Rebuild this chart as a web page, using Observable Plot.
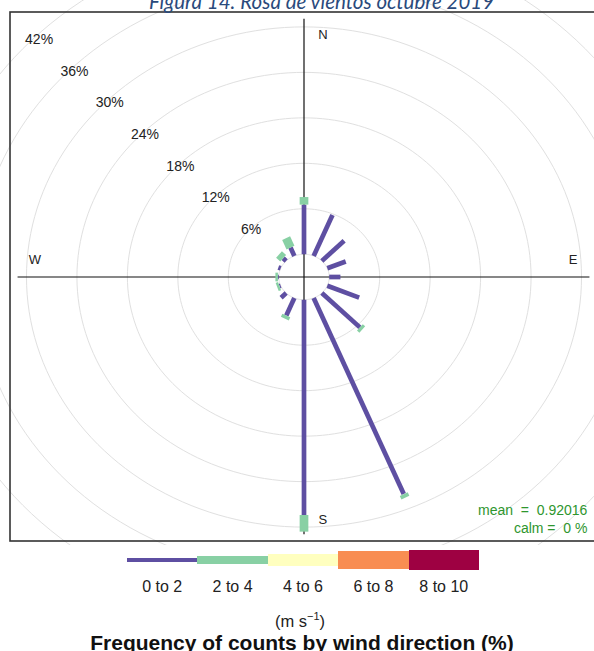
<!DOCTYPE html>
<html>
<head>
<meta charset="utf-8">
<script src="https://cdn.jsdelivr.net/npm/d3@7"></script>
<script src="https://cdn.jsdelivr.net/npm/@observablehq/plot@0.6"></script>
<style>
  html, body { margin: 0; padding: 0; background: #fff; }
  body { width: 594px; height: 651px; overflow: hidden; position: relative; font-family: "Liberation Sans", Arial, sans-serif; }
  #title { position: absolute; top: -9px; left: 0; width: 643px; text-align: center; font-family: Lato, "Open Sans", sans-serif; font-style: italic; font-size: 20.5px; line-height: 21px; color: #2a4a7c; z-index: 2; white-space: nowrap; }
  #chart { position: absolute; top: 0; left: 0; }
  #chart svg { overflow: hidden; }
  .seg { position: absolute; box-sizing: border-box; }
  .lab { position: absolute; width: 70px; text-align: center; font-size: 16px; line-height: 16px; color: #222; }
  #unit { position: absolute; left: 0; width: 600px; text-align: center; top: 607px; font-size: 16.5px; line-height: 18px; color: #222; }
  #footer { position: absolute; left: 0; width: 604px; text-align: center; top: 632px; font-size: 21px; line-height: 22px; font-weight: bold; color: #111; white-space: nowrap; }
</style>
</head>
<body>
<div id="title">Figura 14. Rosa de vientos octubre 2019</div>
<div id="chart"></div>
<div id="legend"></div>
<div id="unit">(m s<sup style="font-size:11px">−1</sup>)</div>
<div id="footer">Frequency of counts by wind direction (%)</div>
<script>
// ---- data ----
const directions = [0, 22.5, 45, 67.5, 90, 112.5, 135, 157.5, 180, 202.5, 225, 247.5, 270, 292.5, 315, 337.5];
const speedBins = ["0 to 2", "2 to 4", "4 to 6", "6 to 8", "8 to 10"];
const freq0to2 = [6.55, 5.85, 3.75, 2.37, 1.33, 4.1, 6.4, 28.0, 28.4, 2.5, 0.85, 0.15, 0.1, 0.3, 0.5, 1.2];
const freq2to4 = [1.0, 0, 0, 0, 0, 0, 0.4, 0.5, 2.2, 0.45, 0, 0.3, 0.3, 0, 0.7, 1.35];
const freq4to6 = [0, 0, 0, 0, 0, 0, 0, 0, 0, 0, 0, 0, 0, 0, 0, 0];
const freq6to8 = [0, 0, 0, 0, 0, 0, 0, 0, 0, 0, 0, 0, 0, 0, 0, 0];
const freq8to10 = [0, 0, 0, 0, 0, 0, 0, 0, 0, 0, 0, 0, 0, 0, 0, 0];
const gridTicks = [6, 12, 18, 24, 30, 36, 42];
const gridLabels = ["6%", "12%", "18%", "24%", "30%", "36%", "42%"];
const compassLabels = ["N", "E", "S", "W"];
const compassAngles = [0, 90, 180, 270];
const meanText = "mean\u00a0\u00a0=\u00a0\u00a00.92016";
const calmText = "calm\u00a0=\u00a0\u00a00\u00a0%";

// ---- style ----
const binColors = ["#5E4FA2", "#88D0A4", "#FFFFBF", "#F88D52", "#9E0142"];
const binWidths = [4.7, 8.7, 12, 17.3, 20.7];
const offset = 3;      // inner empty circle, in % units
const lim = 34.9;      // panel half-size
const axisLen = 34;

const series = [freq0to2, freq2to4, freq4to6, freq6to8, freq8to10];
const rad = a => a * Math.PI / 180;

// stacked paddles
const segs = [];
directions.forEach((dir, i) => {
  let cum = 0;
  series.forEach((s, b) => {
    const v = s[i];
    if (v > 0) {
      const u0 = offset + cum, u1 = offset + cum + v;
      segs.push({bin: b, x1: u0 * Math.sin(rad(dir)), y1: u0 * Math.cos(rad(dir)),
                 x2: u1 * Math.sin(rad(dir)), y2: u1 * Math.cos(rad(dir))});
    }
    cum += v;
  });
});

// grid circles (including the inner offset circle)
const gridPts = [];
[0, ...gridTicks].forEach(p => {
  for (let a = 0; a < 360; a += 2) {
    const u = offset + p;
    gridPts.push({p, x: u * Math.sin(rad(a)), y: u * Math.cos(rad(a))});
  }
});

const labelPts = gridTicks.map((p, i) => ({
  label: gridLabels[i],
  x: 0.99 * (offset + p) * Math.sin(rad(315)),
  y: 0.985 * (offset + p) * Math.cos(rad(315))
}));

const compassPts = compassLabels.map((t, i) => {
  const a = rad(compassAngles[i]);
  const along = 32, side = 2.25;
  const vertical = compassAngles[i] % 180 === 0;
  return {
    t,
    x: along * Math.sin(a) + (vertical ? side : 0),
    y: along * Math.cos(a) + (vertical ? 0 : side)
  };
});

const marks = [
  Plot.line(gridPts, {x: "x", y: "y", z: "p", curve: "linear-closed", stroke: "#e0e0e0", strokeWidth: 1}),
  Plot.ruleY([0], {x1: -axisLen, x2: axisLen, stroke: "#111", strokeWidth: 1.2}),
  Plot.ruleX([0], {y1: -axisLen, y2: axisLen, stroke: "#111", strokeWidth: 1.2}),
];
speedBins.forEach((name, b) => {
  marks.push(Plot.link(segs.filter(d => d.bin === b), {
    x1: "x1", y1: "y1", x2: "x2", y2: "y2",
    stroke: binColors[b], strokeWidth: binWidths[b], strokeLinecap: "butt"
  }));
});
marks.push(
  Plot.text(labelPts, {x: "x", y: "y", text: "label", fontSize: 14, fill: "#222"}),
  Plot.text(compassPts, {x: "x", y: "y", text: "t", fontSize: 13, fill: "#222"}),
  Plot.text([meanText], {x: lim - 1.2, y: -30.8, text: d => d, textAnchor: "end", fontSize: 14, fill: "#2e962e"}),
  Plot.text([calmText], {x: lim - 1.2, y: -33.25, text: d => d, textAnchor: "end", fontSize: 14, fill: "#2e962e"}),
  Plot.rect([0], {x1: -lim, x2: lim, y1: -lim, y2: lim, fill: "none", stroke: "#333", strokeWidth: 1.6})
);

const chart = Plot.plot({
  width: 594,
  height: 545,
  x: {domain: [-lim, lim], range: [10, 597], axis: null},
  y: {domain: [-lim, lim], range: [541, 12], axis: null},
  style: {fontFamily: "Liberation Sans, Arial, sans-serif", background: "transparent"},
  marks
});
document.getElementById("chart").appendChild(chart);

// legend
const legend = document.getElementById("legend");
const x0 = 127, w = 70.4, cy = 560;
speedBins.forEach((name, b) => {
  const s = document.createElement("div");
  s.className = "seg";
  s.style.left = (x0 + b * w) + "px";
  s.style.width = w + "px";
  s.style.top = (cy - binWidths[b] / 2) + "px";
  s.style.height = binWidths[b] + "px";
  s.style.background = binColors[b];
  legend.appendChild(s);
  const l = document.createElement("div");
  l.className = "lab";
  l.textContent = name;
  l.style.left = (x0 + b * w + w / 2 - 35) + "px";
  l.style.top = "579px";
  legend.appendChild(l);
});
</script>
</body>
</html>
